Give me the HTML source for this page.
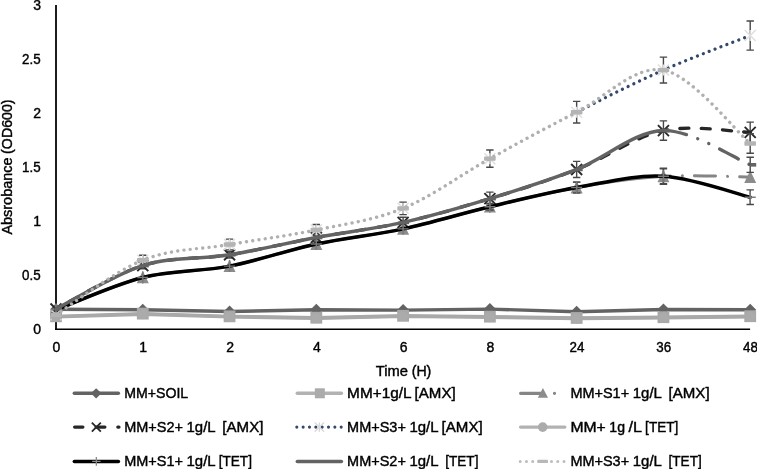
<!DOCTYPE html>
<html><head><meta charset="utf-8"><title>Growth chart</title>
<style>html,body{margin:0;padding:0;background:#fff}svg{display:block}text{font-family:"Liberation Sans",sans-serif;fill:#000;stroke:#000;stroke-width:.4px}</style></head>
<body>
<svg width="757" height="469" viewBox="0 0 757 469">
<rect width="757" height="469" fill="#fff"/>
<path d="M56 5V330" stroke="#1c1c1c" stroke-width="2" fill="none"/><path d="M55 329.2H750.1" stroke="#000" stroke-width="1.5" fill="none"/>
<path d="M56.00 309.32 L142.78 309.75 L229.55 311.48 L316.33 309.75 L403.10 310.08 L489.88 309.10 L576.65 311.70 L663.43 309.43 L750.20 309.75" fill="none" stroke="#636363" stroke-width="3.4" stroke-linecap="round" stroke-linejoin="round"/>
<path d="M56.00 303.32l6 6l-6 6l-6 -6z" fill="#636363"/>
<path d="M142.78 303.75l6 6l-6 6l-6 -6z" fill="#636363"/>
<path d="M229.55 305.48l6 6l-6 6l-6 -6z" fill="#636363"/>
<path d="M316.33 303.75l6 6l-6 6l-6 -6z" fill="#636363"/>
<path d="M403.10 304.08l6 6l-6 6l-6 -6z" fill="#636363"/>
<path d="M489.88 303.10l6 6l-6 6l-6 -6z" fill="#636363"/>
<path d="M576.65 305.70l6 6l-6 6l-6 -6z" fill="#636363"/>
<path d="M663.43 303.43l6 6l-6 6l-6 -6z" fill="#636363"/>
<path d="M750.20 303.75l6 6l-6 6l-6 -6z" fill="#636363"/>
<path d="M56.00 316.34 L142.78 313.64 L229.55 316.34 L316.33 317.74 L403.10 315.80 L489.88 316.66 L576.65 317.96 L663.43 317.20 L750.20 316.23" fill="none" stroke="#a9a9a9" stroke-width="3.4" stroke-linecap="round" stroke-linejoin="round"/>
<rect x="50.10" y="310.44" width="11.8" height="11.8" fill="#a8a8a8"/>
<rect x="136.88" y="307.74" width="11.8" height="11.8" fill="#a8a8a8"/>
<rect x="223.65" y="310.44" width="11.8" height="11.8" fill="#a8a8a8"/>
<rect x="310.43" y="311.84" width="11.8" height="11.8" fill="#a8a8a8"/>
<rect x="397.20" y="309.90" width="11.8" height="11.8" fill="#a8a8a8"/>
<rect x="483.98" y="310.76" width="11.8" height="11.8" fill="#a8a8a8"/>
<rect x="570.75" y="312.06" width="11.8" height="11.8" fill="#a8a8a8"/>
<rect x="657.53" y="311.30" width="11.8" height="11.8" fill="#a8a8a8"/>
<rect x="744.30" y="310.33" width="11.8" height="11.8" fill="#a8a8a8"/>
<path d="M56.00 309.86 C70.46 304.46 113.85 284.75 142.78 277.46 C171.70 270.17 200.62 271.70 229.55 266.12 C258.48 260.54 287.40 250.19 316.33 243.98 C345.25 237.77 374.18 235.07 403.10 228.86 C432.03 222.65 460.95 213.61 489.88 206.72 C518.80 199.83 547.73 192.57 576.65 187.50 C605.58 182.42 634.50 178.01 663.43 176.26" fill="none" stroke="#858585" stroke-width="3" stroke-linecap="round" stroke-linejoin="round"/>
<path d="M663.43 176.26 C692.35 174.52 735.74 176.89 750.20 177.02" fill="none" stroke="#858585" stroke-width="3" stroke-linecap="round" stroke-linejoin="round" stroke-dasharray="21 12 0.01 12" stroke-dashoffset="14"/>
<path d="M576.65 182.10V192.90M572.95 182.10H580.35M572.95 192.90H580.35" stroke="#484848" stroke-width="1.40" fill="none"/><path d="M663.43 168.70V183.82M659.73 168.70H667.13M659.73 183.82H667.13" stroke="#484848" stroke-width="1.40" fill="none"/>
<path d="M56.00 303.26l6 12.5h-12z" fill="#8c8c8c"/>
<path d="M142.78 270.86l6 12.5h-12z" fill="#8c8c8c"/>
<path d="M229.55 259.52l6 12.5h-12z" fill="#8c8c8c"/>
<path d="M316.33 237.38l6 12.5h-12z" fill="#8c8c8c"/>
<path d="M403.10 222.26l6 12.5h-12z" fill="#8c8c8c"/>
<path d="M489.88 200.12l6 12.5h-12z" fill="#8c8c8c"/>
<path d="M576.65 180.90l6 12.5h-12z" fill="#8c8c8c"/>
<path d="M663.43 169.66l6 12.5h-12z" fill="#8c8c8c"/>
<path d="M750.20 170.42l6 12.5h-12z" fill="#8c8c8c"/>
<path d="M56.00 309.00 C70.46 301.76 113.85 274.62 142.78 265.58 C171.70 256.54 200.62 259.46 229.55 254.78 C258.48 250.10 287.40 242.90 316.33 237.50 C345.25 232.10 374.18 228.86 403.10 222.38 C432.03 215.90 460.95 207.44 489.88 198.62 C518.80 189.80 547.73 180.80 576.65 169.46 C605.58 158.12 634.50 136.75 663.43 130.58 C692.35 124.41 735.74 132.11 750.20 132.42" fill="none" stroke="#262626" stroke-width="3.3" stroke-linecap="round" stroke-linejoin="round" stroke-dasharray="9 12.3" stroke-dashoffset="5.5"/>
<path d="M142.78 262.34V268.82M139.08 262.34H146.47M139.08 268.82H146.47" stroke="#484848" stroke-width="1.40" fill="none"/><path d="M229.55 251.54V258.02M225.85 251.54H233.25M225.85 258.02H233.25" stroke="#484848" stroke-width="1.40" fill="none"/><path d="M316.33 233.18V241.82M312.63 233.18H320.03M312.63 241.82H320.03" stroke="#484848" stroke-width="1.40" fill="none"/><path d="M403.10 217.30V227.46M399.40 217.30H406.80M399.40 227.46H406.80" stroke="#484848" stroke-width="1.40" fill="none"/><path d="M489.88 192.14V205.10M486.18 192.14H493.57M486.18 205.10H493.57" stroke="#484848" stroke-width="1.40" fill="none"/><path d="M576.65 161.36V177.56M572.95 161.36H580.35M572.95 177.56H580.35" stroke="#484848" stroke-width="1.40" fill="none"/><path d="M663.43 120.86V140.30M659.73 120.86H667.13M659.73 140.30H667.13" stroke="#484848" stroke-width="1.40" fill="none"/><path d="M750.20 122.16V142.68M746.50 122.16H753.90M746.50 142.68H753.90" stroke="#484848" stroke-width="1.40" fill="none"/>
<path d="M50.50 303.50l11 11m0 -11l-11 11" stroke="#2a2a2a" stroke-width="1.9" fill="none"/>
<path d="M137.28 260.08l11 11m0 -11l-11 11" stroke="#2a2a2a" stroke-width="1.9" fill="none"/>
<path d="M224.05 249.28l11 11m0 -11l-11 11" stroke="#2a2a2a" stroke-width="1.9" fill="none"/>
<path d="M310.83 232.00l11 11m0 -11l-11 11" stroke="#2a2a2a" stroke-width="1.9" fill="none"/>
<path d="M397.60 216.88l11 11m0 -11l-11 11" stroke="#2a2a2a" stroke-width="1.9" fill="none"/>
<path d="M484.38 193.12l11 11m0 -11l-11 11" stroke="#2a2a2a" stroke-width="1.9" fill="none"/>
<path d="M571.15 163.96l11 11m0 -11l-11 11" stroke="#2a2a2a" stroke-width="1.9" fill="none"/>
<path d="M657.93 125.08l11 11m0 -11l-11 11" stroke="#2a2a2a" stroke-width="1.9" fill="none"/>
<path d="M744.70 126.92l11 11m0 -11l-11 11" stroke="#2a2a2a" stroke-width="1.9" fill="none"/>
<path d="M576.65 112.22 C605.58 97.46 634.50 82.88 663.43 70.10 C692.35 57.32 735.74 41.30 750.20 35.54" fill="none" stroke="#33486c" stroke-width="3.3" stroke-linecap="round" stroke-linejoin="round" stroke-dasharray="0.01 6.3" stroke-dashoffset="5.63"/>
<path d="M142.78 255.32V265.04M139.08 255.32H146.47M139.08 265.04H146.47" stroke="#484848" stroke-width="1.40" fill="none"/><path d="M229.55 239.12V249.92M225.85 239.12H233.25M225.85 249.92H233.25" stroke="#484848" stroke-width="1.40" fill="none"/><path d="M316.33 224.54V235.34M312.63 224.54H320.03M312.63 235.34H320.03" stroke="#484848" stroke-width="1.40" fill="none"/><path d="M403.10 202.08V214.60M399.40 202.08H406.80M399.40 214.60H406.80" stroke="#484848" stroke-width="1.40" fill="none"/><path d="M489.88 150.02V167.30M486.18 150.02H493.57M486.18 167.30H493.57" stroke="#484848" stroke-width="1.40" fill="none"/><path d="M576.65 101.42V123.02M572.95 101.42H580.35M572.95 123.02H580.35" stroke="#484848" stroke-width="1.40" fill="none"/><path d="M663.43 57.14V83.06M659.73 57.14H667.13M659.73 83.06H667.13" stroke="#484848" stroke-width="1.40" fill="none"/><path d="M750.20 20.96V50.12M746.50 20.96H753.90M746.50 50.12H753.90" stroke="#484848" stroke-width="1.40" fill="none"/>
<path d="M50.50 309.22l11 11m0 -11l-11 11m5.5 0v-11" stroke="#dedede" stroke-width="1.4" fill="none"/>
<path d="M137.28 254.68l11 11m0 -11l-11 11m5.5 0v-11" stroke="#dedede" stroke-width="1.4" fill="none"/>
<path d="M224.05 239.02l11 11m0 -11l-11 11m5.5 0v-11" stroke="#dedede" stroke-width="1.4" fill="none"/>
<path d="M310.83 224.44l11 11m0 -11l-11 11m5.5 0v-11" stroke="#dedede" stroke-width="1.4" fill="none"/>
<path d="M397.60 202.84l11 11m0 -11l-11 11m5.5 0v-11" stroke="#dedede" stroke-width="1.4" fill="none"/>
<path d="M484.38 153.16l11 11m0 -11l-11 11m5.5 0v-11" stroke="#dedede" stroke-width="1.4" fill="none"/>
<path d="M571.15 106.72l11 11m0 -11l-11 11m5.5 0v-11" stroke="#dedede" stroke-width="1.4" fill="none"/>
<path d="M657.93 64.60l11 11m0 -11l-11 11m5.5 0v-11" stroke="#dedede" stroke-width="1.4" fill="none"/>
<path d="M744.70 30.04l11 11m0 -11l-11 11m5.5 0v-11" stroke="#dedede" stroke-width="1.4" fill="none"/>
<path d="M56.00 316.88 L142.78 314.18 L229.55 316.88 L316.33 318.28 L403.10 316.34 L489.88 317.20 L576.65 318.50 L663.43 317.74 L750.20 316.77" fill="none" stroke="#a9a9a9" stroke-width="3.4" stroke-linecap="round" stroke-linejoin="round"/>
<circle cx="56.00" cy="316.88" r="5" fill="#ababab"/>
<circle cx="142.78" cy="314.18" r="5" fill="#ababab"/>
<circle cx="229.55" cy="316.88" r="5" fill="#ababab"/>
<circle cx="316.33" cy="318.28" r="5" fill="#ababab"/>
<circle cx="403.10" cy="316.34" r="5" fill="#ababab"/>
<circle cx="489.88" cy="317.20" r="5" fill="#ababab"/>
<circle cx="576.65" cy="318.50" r="5" fill="#ababab"/>
<circle cx="663.43" cy="317.74" r="5" fill="#ababab"/>
<circle cx="750.20" cy="316.77" r="5" fill="#ababab"/>
<path d="M56.00 309.86 C70.46 304.46 113.85 284.75 142.78 277.46 C171.70 270.17 200.62 271.70 229.55 266.12 C258.48 260.54 287.40 250.19 316.33 243.98 C345.25 237.77 374.18 235.07 403.10 228.86 C432.03 222.65 460.95 213.61 489.88 206.72 C518.80 199.83 547.73 192.57 576.65 187.50 C605.58 182.42 634.50 174.64 663.43 176.26 C692.35 177.88 735.74 193.72 750.20 197.22" fill="none" stroke="#000" stroke-width="3.5" stroke-linecap="round" stroke-linejoin="round"/>
<path d="M489.88 203.48V209.96M486.18 203.48H493.57M486.18 209.96H493.57" stroke="#484848" stroke-width="1.40" fill="none"/><path d="M576.65 182.10V192.90M572.95 182.10H580.35M572.95 192.90H580.35" stroke="#484848" stroke-width="1.40" fill="none"/><path d="M663.43 168.16V184.36M659.73 168.16H667.13M659.73 184.36H667.13" stroke="#484848" stroke-width="1.40" fill="none"/><path d="M750.20 189.87V204.56M746.50 189.87H753.90M746.50 204.56H753.90" stroke="#484848" stroke-width="1.40" fill="none"/>
<path d="M50.50 309.86h11m-5.5 -6v12" stroke="#7a7a7a" stroke-width="1.4" fill="none"/>
<path d="M137.28 277.46h11m-5.5 -6v12" stroke="#7a7a7a" stroke-width="1.4" fill="none"/>
<path d="M224.05 266.12h11m-5.5 -6v12" stroke="#7a7a7a" stroke-width="1.4" fill="none"/>
<path d="M310.83 243.98h11m-5.5 -6v12" stroke="#7a7a7a" stroke-width="1.4" fill="none"/>
<path d="M397.60 228.86h11m-5.5 -6v12" stroke="#7a7a7a" stroke-width="1.4" fill="none"/>
<path d="M484.38 206.72h11m-5.5 -6v12" stroke="#7a7a7a" stroke-width="1.4" fill="none"/>
<path d="M571.15 187.50h11m-5.5 -6v12" stroke="#7a7a7a" stroke-width="1.4" fill="none"/>
<path d="M657.93 176.26h11m-5.5 -6v12" stroke="#7a7a7a" stroke-width="1.4" fill="none"/>
<path d="M744.70 197.22h11m-5.5 -6v12" stroke="#7a7a7a" stroke-width="1.4" fill="none"/>
<path d="M56.00 309.00 C70.46 301.76 113.85 274.62 142.78 265.58 C171.70 256.54 200.62 259.46 229.55 254.78 C258.48 250.10 287.40 242.90 316.33 237.50 C345.25 232.10 374.18 228.86 403.10 222.38 C432.03 215.90 460.95 207.44 489.88 198.62 C518.80 189.80 547.73 180.80 576.65 169.46 C605.58 158.12 634.50 131.35 663.43 130.58" fill="none" stroke="#636363" stroke-width="3.5" stroke-linecap="round" stroke-linejoin="round"/>
<path d="M663.43 130.58 C692.35 129.81 735.74 159.11 750.20 164.82" fill="none" stroke="#636363" stroke-width="3.4" stroke-linecap="round" stroke-linejoin="round" stroke-dasharray="21 12 0.01 12 0.01 12" stroke-dashoffset="-2.5"/>
<path d="M750.20 157.26V172.38M746.50 157.26H753.90M746.50 172.38H753.90" stroke="#484848" stroke-width="1.40" fill="none"/>
<rect x="56.00" y="307.20" width="6" height="3.6" fill="#636363"/>
<rect x="142.78" y="263.78" width="6" height="3.6" fill="#636363"/>
<rect x="229.55" y="252.98" width="6" height="3.6" fill="#636363"/>
<rect x="316.33" y="235.70" width="6" height="3.6" fill="#636363"/>
<rect x="403.10" y="220.58" width="6" height="3.6" fill="#636363"/>
<rect x="489.88" y="196.82" width="6" height="3.6" fill="#636363"/>
<rect x="576.65" y="167.66" width="6" height="3.6" fill="#636363"/>
<rect x="663.43" y="128.78" width="6" height="3.6" fill="#636363"/>
<rect x="750.20" y="163.02" width="6" height="3.6" fill="#636363"/>
<path d="M56.00 314.72 C70.46 305.63 113.85 271.88 142.78 260.18 C171.70 248.48 200.62 249.56 229.55 244.52 C258.48 239.48 287.40 235.97 316.33 229.94 C345.25 223.91 374.18 220.22 403.10 208.34 C432.03 196.46 460.95 174.68 489.88 158.66 C518.80 142.64 547.73 126.98 576.65 112.22 C605.58 97.46 634.50 64.88 663.43 70.10 C692.35 75.32 735.74 131.30 750.20 143.54" fill="none" stroke="#b0b0b0" stroke-width="3.4" stroke-linecap="round" stroke-linejoin="round" stroke-dasharray="0.01 6.3"/>
<path d="M750.20 133.82V153.26M746.50 133.82H753.90M746.50 153.26H753.90" stroke="#484848" stroke-width="1.40" fill="none"/>
<rect x="50.20" y="312.52" width="11.6" height="4.4" rx="0.8" fill="#b4b4b4"/>
<rect x="136.97" y="257.98" width="11.6" height="4.4" rx="0.8" fill="#b4b4b4"/>
<rect x="223.75" y="242.32" width="11.6" height="4.4" rx="0.8" fill="#b4b4b4"/>
<rect x="310.53" y="227.74" width="11.6" height="4.4" rx="0.8" fill="#b4b4b4"/>
<rect x="397.30" y="206.14" width="11.6" height="4.4" rx="0.8" fill="#b4b4b4"/>
<rect x="484.07" y="156.46" width="11.6" height="4.4" rx="0.8" fill="#b4b4b4"/>
<rect x="570.85" y="110.02" width="11.6" height="4.4" rx="0.8" fill="#b4b4b4"/>
<rect x="657.63" y="67.90" width="11.6" height="4.4" rx="0.8" fill="#b4b4b4"/>
<rect x="744.40" y="141.34" width="11.6" height="4.4" rx="0.8" fill="#b4b4b4"/>
<text y="334.30" font-size="14" xml:space="preserve"><tspan x="33.16">0</tspan></text>
<text y="280.30" font-size="14" xml:space="preserve"><tspan x="22.03" textLength="18.57" lengthAdjust="spacingAndGlyphs">0.5</tspan></text>
<text y="226.30" font-size="14" xml:space="preserve"><tspan x="33.16">1</tspan></text>
<text y="172.30" font-size="14" xml:space="preserve"><tspan x="22.03" textLength="18.57" lengthAdjust="spacingAndGlyphs">1.5</tspan></text>
<text y="118.30" font-size="14" xml:space="preserve"><tspan x="33.16">2</tspan></text>
<text y="64.30" font-size="14" xml:space="preserve"><tspan x="22.03" textLength="18.57" lengthAdjust="spacingAndGlyphs">2.5</tspan></text>
<text y="10.30" font-size="14" xml:space="preserve"><tspan x="33.16">3</tspan></text>
<text y="352.30" font-size="14" xml:space="preserve"><tspan x="52.58">0</tspan></text>
<text y="352.30" font-size="14" xml:space="preserve"><tspan x="139.36">1</tspan></text>
<text y="352.30" font-size="14" xml:space="preserve"><tspan x="226.13">2</tspan></text>
<text y="352.30" font-size="14" xml:space="preserve"><tspan x="312.91">4</tspan></text>
<text y="352.30" font-size="14" xml:space="preserve"><tspan x="399.68">6</tspan></text>
<text y="352.30" font-size="14" xml:space="preserve"><tspan x="486.46">8</tspan></text>
<text y="352.30" font-size="14" xml:space="preserve"><tspan x="569.51" textLength="14.88" lengthAdjust="spacingAndGlyphs">24</tspan></text>
<text y="352.30" font-size="14" xml:space="preserve"><tspan x="656.29" textLength="14.88" lengthAdjust="spacingAndGlyphs">36</tspan></text>
<text y="352.30" font-size="14" xml:space="preserve"><tspan x="743.06" textLength="14.88" lengthAdjust="spacingAndGlyphs">48</tspan></text>
<text y="376.00" font-size="14" xml:space="preserve"><tspan x="375.86" textLength="32.21" lengthAdjust="spacingAndGlyphs">Time</tspan> <tspan x="411.68" textLength="19.66" lengthAdjust="spacingAndGlyphs">(H)</tspan></text>
<g transform="translate(11.6 167) rotate(-90)"><text y="0.00" font-size="14" xml:space="preserve"><tspan x="-67.61" textLength="77.14" lengthAdjust="spacingAndGlyphs">Absrobance</tspan> <tspan x="13.14" textLength="54.46" lengthAdjust="spacingAndGlyphs">(OD600)</tspan></text></g>
<path d="M74.30 393.30H118.40" fill="none" stroke="#636363" stroke-width="3.4" stroke-linecap="round" stroke-linejoin="round"/>
<path d="M96.15 388.20l5.3 5.1l-5.3 5.1l-5.3 -5.1z" fill="#636363"/>
<text y="398.30" font-size="14" xml:space="preserve"><tspan x="124.20" textLength="64.02" lengthAdjust="spacingAndGlyphs">MM+SOIL</tspan></text>
<path d="M297.30 393.30H341.40" fill="none" stroke="#b2b2b2" stroke-width="3.4" stroke-linecap="round" stroke-linejoin="round"/>
<rect x="314.85" y="388.30" width="10" height="10" fill="#ababab"/>
<text y="398.30" font-size="14" xml:space="preserve"><tspan x="347.10" textLength="63.87" lengthAdjust="spacingAndGlyphs">MM+1g/L</tspan> <tspan x="414.59" textLength="41.07" lengthAdjust="spacingAndGlyphs">[AMX]</tspan></text>
<path d="M520.60 393.30H540.90M554.50 393.30h0.01" fill="none" stroke="#858585" stroke-width="3.1999999999999997" stroke-linecap="round" stroke-linejoin="round"/>
<path d="M542.90 388.10l5.1 9.6h-10.2z" fill="#8c8c8c"/>
<text y="398.30" font-size="14" xml:space="preserve"><tspan x="570.40" textLength="58.75" lengthAdjust="spacingAndGlyphs">MM+S1+</tspan> <tspan x="632.77" textLength="28.54" lengthAdjust="spacingAndGlyphs">1g/L</tspan>  <tspan x="668.54" textLength="41.07" lengthAdjust="spacingAndGlyphs">[AMX]</tspan></text>
<path d="M74.60 427.10H82.90M96.10 427.10H104.90M117.80 427.10h1.2" fill="none" stroke="#262626" stroke-width="3.2" stroke-linecap="round" stroke-linejoin="round"/>
<path d="M91.85 422.60l9 9m0 -9l-9 9" stroke="#2a2a2a" stroke-width="1.8" fill="none"/>
<text y="432.10" font-size="14" xml:space="preserve"><tspan x="124.20" textLength="58.75" lengthAdjust="spacingAndGlyphs">MM+S2+</tspan> <tspan x="186.57" textLength="28.54" lengthAdjust="spacingAndGlyphs">1g/L</tspan>  <tspan x="222.34" textLength="41.07" lengthAdjust="spacingAndGlyphs">[AMX]</tspan></text>
<path d="M296.80 427.10H342.80" fill="none" stroke="#33486c" stroke-width="3.1" stroke-linecap="round" stroke-linejoin="round" stroke-dasharray="0.01 6.33"/>
<path d="M314.65 422.40l9.4 9.4m0 -9.4l-9.4 9.4m4.7 0v-9.4" stroke="#d8d8d8" stroke-width="1.3" fill="none"/>
<text y="432.10" font-size="14" xml:space="preserve"><tspan x="347.10" textLength="58.75" lengthAdjust="spacingAndGlyphs">MM+S3+</tspan> <tspan x="409.47" textLength="28.54" lengthAdjust="spacingAndGlyphs">1g/L</tspan> <tspan x="441.63" textLength="41.07" lengthAdjust="spacingAndGlyphs">[AMX]</tspan></text>
<path d="M520.60 427.10H564.80" fill="none" stroke="#b2b2b2" stroke-width="3.4" stroke-linecap="round" stroke-linejoin="round"/>
<circle cx="542.70" cy="427.10" r="4.8" fill="#ababab"/>
<text y="432.10" font-size="14" xml:space="preserve"><tspan x="570.40" textLength="35.33" lengthAdjust="spacingAndGlyphs">MM+</tspan> <tspan x="609.34" textLength="15.65" lengthAdjust="spacingAndGlyphs">1g</tspan> <tspan x="628.61" textLength="12.90" lengthAdjust="spacingAndGlyphs">/L</tspan> <tspan x="645.12" textLength="33.22" lengthAdjust="spacingAndGlyphs">[TET]</tspan></text>
<path d="M74.30 461.40H118.40" fill="none" stroke="#000" stroke-width="3.5" stroke-linecap="round" stroke-linejoin="round"/>
<path d="M92.15 461.40h8.4m-4.2 -4.4v8.8" stroke="#8a8a8a" stroke-width="1.3" fill="none"/>
<text y="466.40" font-size="14" xml:space="preserve"><tspan x="124.20" textLength="58.75" lengthAdjust="spacingAndGlyphs">MM+S1+</tspan> <tspan x="186.57" textLength="28.54" lengthAdjust="spacingAndGlyphs">1g/L</tspan> <tspan x="218.73" textLength="33.22" lengthAdjust="spacingAndGlyphs">[TET]</tspan></text>
<path d="M297.30 461.40H341.40" fill="none" stroke="#636363" stroke-width="3.5" stroke-linecap="round" stroke-linejoin="round"/>
<text y="466.40" font-size="14" xml:space="preserve"><tspan x="347.10" textLength="58.75" lengthAdjust="spacingAndGlyphs">MM+S2+</tspan> <tspan x="409.47" textLength="28.54" lengthAdjust="spacingAndGlyphs">1g/L</tspan>  <tspan x="445.24" textLength="33.22" lengthAdjust="spacingAndGlyphs">[TET]</tspan></text>
<path d="M520.20 461.40H566.20" fill="none" stroke="#bdbdbd" stroke-width="3.0" stroke-linecap="round" stroke-linejoin="round" stroke-dasharray="0.01 6.25"/>
<rect x="537.40" y="459.70" width="10.6" height="3.4" rx="0.8" fill="#b8b8b8"/>
<text y="466.40" font-size="14" xml:space="preserve"><tspan x="570.40" textLength="58.75" lengthAdjust="spacingAndGlyphs">MM+S3+</tspan> <tspan x="632.77" textLength="28.54" lengthAdjust="spacingAndGlyphs">1g/L</tspan>  <tspan x="668.54" textLength="33.22" lengthAdjust="spacingAndGlyphs">[TET]</tspan></text>
</svg>
</body></html>
